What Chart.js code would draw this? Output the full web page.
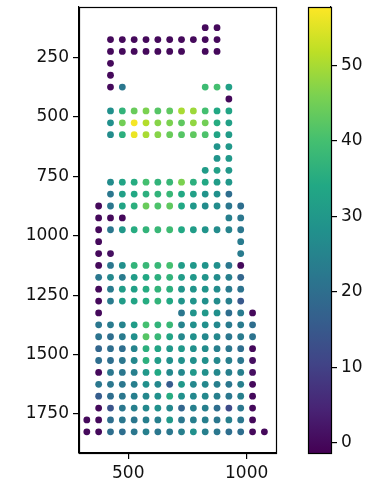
<!DOCTYPE html>
<html>
<head>
<meta charset="utf-8">
<script src="https://cdn.jsdelivr.net/npm/chart.js@4"></script>
<style>
html,body{margin:0;padding:0;background:#fff;}
#wrap{position:relative;width:371px;height:489px;}
canvas{position:absolute;left:0;top:0;}
</style>
</head>
<body>
<div id="wrap">
<canvas id="main" width="371" height="489"></canvas>
<canvas id="cbar" width="371" height="489"></canvas>
</div>
<script>
// ---- data ----
const xTicks = [500, 1000];
const yTicks = [250, 500, 750, 1000, 1250, 1500, 1750];
const colorbarTicks = [0, 10, 20, 30, 40, 50];
const xRange = [292, 1124];
const yRange = [38, 1914];
const valueRange = [-1.33, 57.7];

const rowY = [125,175,225,275,325,375,425,475,525,575,625,675,725,775,825,875,925,975,1025,1075,1125,1175,1225,1275,1325,1375,1425,1475,1525,1575,1625,1675,1725,1775,1825];
const C11 = [425,475,525,575,625,675,725,775,825,875,925];
const C13 = [375,425,475,525,575,625,675,725,775,825,875,925,975];
const C14 = [375,425,475,525,575,625,675,725,775,825,875,925,975,1025];
const rowX = [
  [825,875],
  [425,475,525,575,625,675,725,775,825,875],
  [425,475,525,575,625,675,725,825,875],
  [425],
  [425],
  [425,475,825,875,925],
  [925],
  C11, C11, C11,
  [875,925],
  [875,925],
  [825,875,925],
  C11, C11,
  C13,
  [375,425,475,925,975],
  C13,
  [375,975],
  [375,425,975],
  C13, C13, C13, C13,
  [375,725,775,825,875,925,975,1025],
  C14, C14, C14, C14, C14, C14, C14, C14,
  [325,375,425,475,525,575,625,675,725,775,825,875,925,975,1025],
  [325,375,425,475,525,575,625,675,725,775,825,875,925,975,1025,1075]
];
const rowValue = [
  [0,0],
  [0,0,0,0,0,0,0,0,0,0],
  [0,0,0,0,0,0,0,0,0],
  [0],
  [0],
  [0,22,39,40,32],
  [0],
  [28,37,44,46,42,43,50,49,40,34,33],
  [28,45,57,51,47,46,43,48,45,35,32],
  [27,36,56,50,47,44,42,43,41,33,31],
  [29,30],
  [29,30],
  [31,32,30],
  [27,33,35,40,37,38,46,36,34,31,30],
  [22,32,34,36,37,38,34,32,29,28,20],
  [0,22,33,36,44,41,43,34,30,27,27,22,20],
  [0,0,0,24,22],
  [0,22,30,35,37,38,39,34,31,29,27,25,22],
  [0,23],
  [0,1,23],
  [0,22,28,37,38,38,40,31,30,29,28,22,0],
  [22,26,23,31,34,36,37,31,30,29,27,24,18],
  [0,23,31,32,35,37,36,29,29,29,27,23,21],
  [0,23,31,33,35,37,34,29,29,28,27,24,15],
  [0,22,29,30,28,20,23,0],
  [22,23,25,31,40,37,38,25,28,28,26,23,23,20],
  [21,20,23,28,42,38,33,26,28,26,26,22,23,21],
  [18,20,20,25,36,33,30,30,28,27,24,22,20,0],
  [20,20,22,26,36,31,28,28,28,28,26,24,22,1],
  [0,22,22,24,30,34,26,26,30,28,26,24,24,1],
  [22,22,22,24,28,26,16,30,26,26,24,22,24,0],
  [16,20,22,24,26,28,35,28,26,26,24,22,24,0],
  [0,14,22,24,26,28,26,18,24,24,20,12,22,0],
  [0,0,20,22,22,24,24,30,22,24,24,22,24,22,0],
  [0,0,20,20,22,24,22,22,24,28,24,22,20,20,0,0]
];

// ---- viridis ----
const VIR = ['#440154','#482475','#414487','#355f8d','#2a788e','#21918c','#22a884','#44bf70','#7ad151','#bddf26','#fde725'];
function hex2rgb(h){return [parseInt(h.substr(1,2),16),parseInt(h.substr(3,2),16),parseInt(h.substr(5,2),16)];}
const VIRRGB = VIR.map(hex2rgb);
function viridis(t){
  t = Math.max(0, Math.min(1, t));
  const f = t * 10, i = Math.min(9, Math.floor(f)), u = f - i;
  const a = VIRRGB[i], b = VIRRGB[i+1];
  return 'rgb(' + [0,1,2].map(k => Math.round(a[k] + (b[k]-a[k])*u)).join(',') + ')';
}
function colorOf(v){ return viridis((v - valueRange[0]) / (valueRange[1] - valueRange[0])); }

const points = [], colors = [];
rowY.forEach((y, r) => {
  rowX[r].forEach((x, c) => {
    points.push({x: x, y: y});
    colors.push(colorOf(rowValue[r][c]));
  });
});

Chart.defaults.font.family = "'DejaVu Sans', sans-serif";
Chart.defaults.font.size = 17;
Chart.defaults.color = '#111';

const frame = {
  id: 'frame',
  afterDraw(chart){
    const a = chart.chartArea, ctx = chart.ctx;
    ctx.save();
    ctx.strokeStyle = '#000';
    ctx.lineWidth = 1.2;
    ctx.strokeRect(Math.round(a.left)+0.5, Math.round(a.top)+0.5, Math.round(a.right-a.left), Math.round(a.bottom-a.top));
    ctx.restore();
  }
};

function noPad(s){ s.paddingTop = 0; s.paddingBottom = 0; s.paddingLeft = 0; s.paddingRight = 0; }

function axisCommon(){
  return {
    grid: {display: true, drawOnChartArea: false, drawTicks: true, tickLength: 6, color: '#000', lineWidth: 1.2},
    border: {display: true, color: '#000', width: 1.2},
    ticks: {padding: 4, color: '#111', font: {size: 17}, callback: v => String(v)}
  };
}

const xs = axisCommon();
Object.assign(xs, {
  type: 'linear', min: xRange[0], max: xRange[1],
  afterBuildTicks: s => { s.ticks = xTicks.map(v => ({value: v})); },
  afterFit: s => { s.height = 36; noPad(s); }
});
const ys = axisCommon();
Object.assign(ys, {
  type: 'linear', reverse: true, min: yRange[0], max: yRange[1],
  afterBuildTicks: s => { s.ticks = yTicks.map(v => ({value: v})); },
  afterFit: s => { s.width = 79; noPad(s); }
});

new Chart(document.getElementById('main'), {
  type: 'scatter',
  data: {datasets: [{data: points, pointBackgroundColor: colors, pointBorderWidth: 0, pointRadius: 3.4, pointHoverRadius: 3.4}]},
  options: {
    responsive: false, animation: false, devicePixelRatio: 1,
    layout: {padding: {left: 0, top: 7, right: 95, bottom: 0}},
    plugins: {legend: {display: false}, tooltip: {enabled: false}},
    scales: {x: xs, y: ys}
  },
  plugins: [frame]
});

// ---- colorbar ----
const gradPlugin = {
  id: 'grad',
  beforeDatasetsDraw(chart){
    const a = chart.chartArea, ctx = chart.ctx;
    const g = ctx.createLinearGradient(0, a.bottom, 0, a.top);
    VIR.forEach((c, i) => g.addColorStop(i / 10, c));
    ctx.save();
    ctx.fillStyle = g;
    ctx.fillRect(a.left, a.top, a.right - a.left, a.bottom - a.top);
    ctx.restore();
  }
};
const cby = axisCommon();
Object.assign(cby, {
  type: 'linear', position: 'right', min: valueRange[0], max: valueRange[1],
  afterBuildTicks: s => { s.ticks = colorbarTicks.map(v => ({value: v})); },
  afterFit: s => { s.width = 40; noPad(s); }
});
new Chart(document.getElementById('cbar'), {
  type: 'scatter',
  data: {datasets: [{data: []}]},
  options: {
    responsive: false, animation: false, devicePixelRatio: 1,
    layout: {padding: {left: 308, top: 7, right: 0, bottom: 36}},
    plugins: {legend: {display: false}, tooltip: {enabled: false}},
    scales: {x: {display: false, min: 0, max: 1}, y: cby}
  },
  plugins: [gradPlugin, frame]
});
</script>
</body>
</html>
